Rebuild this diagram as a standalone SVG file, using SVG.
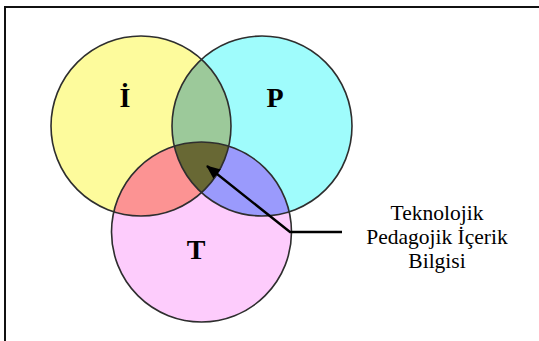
<svg xmlns="http://www.w3.org/2000/svg" width="539" height="341" viewBox="0 0 539 341">
  <style>
    .ring { fill: none; stroke: #2e2e2e; stroke-width: 1.6; }
    .big { font-weight: bold; font-size: 28px; fill: #000; text-anchor: middle; }
    .note { font-size: 21.5px; fill: #000; text-anchor: middle; }
    .conn { stroke: #000; stroke-width: 2.4; fill: none; }
  </style>
  <defs>
    <clipPath id="clipI"><circle cx="141" cy="126" r="90"/></clipPath>
    <clipPath id="clipP"><circle cx="262" cy="126" r="90"/></clipPath>
    <clipPath id="clipT"><circle cx="201.5" cy="232" r="90"/></clipPath>
    <marker id="head" viewBox="0 0 14 12" refX="13" refY="6" markerWidth="14" markerHeight="12" markerUnits="userSpaceOnUse" orient="auto">
      <path d="M0,0 L14,6 L0,12 Z" fill="#000"/>
    </marker>
  </defs>

  <rect width="539" height="341" fill="#fff"/>
  <!-- outer frame, continues past the right and bottom edges -->
  <rect x="5" y="7" width="600" height="400" fill="none" stroke="#111" stroke-width="2"/>

  <!-- base discs -->
  <g id="node-I">
    <circle cx="141" cy="126" r="90" fill="#fdfb9c"/>
  </g>
  <g id="node-P">
    <circle cx="262" cy="126" r="90" fill="#9ffcfc"/>
  </g>
  <g id="node-T">
    <circle cx="201.5" cy="232" r="90" fill="#fdccfc"/>
  </g>

  <!-- pairwise overlaps -->
  <g id="overlap-IP" clip-path="url(#clipI)">
    <circle cx="262" cy="126" r="90" fill="#9cc99a"/>
  </g>
  <g id="overlap-IT" clip-path="url(#clipI)">
    <circle cx="201.5" cy="232" r="90" fill="#fc9393"/>
  </g>
  <g id="overlap-PT" clip-path="url(#clipP)">
    <circle cx="201.5" cy="232" r="90" fill="#9a9afc"/>
  </g>
  <!-- centre: all three -->
  <g id="overlap-IPT" clip-path="url(#clipI)">
    <g clip-path="url(#clipP)">
      <circle cx="201.5" cy="232" r="90" fill="#686834"/>
    </g>
  </g>

  <!-- outlines -->
  <g id="outlines">
    <circle class="ring" cx="141" cy="126" r="90"/>
    <circle class="ring" cx="262" cy="126" r="90"/>
    <circle class="ring" cx="201.5" cy="232" r="90"/>
  </g>

  <!-- circle letters -->
  <g id="labels" font-family="'Liberation Serif', 'DejaVu Serif', 'Times New Roman', serif">
    <text class="big" x="125" y="107">İ</text>
    <text class="big" x="275" y="107">P</text>
    <text class="big" x="196" y="259">T</text>
  </g>

  <!-- pointer to the centre region -->
  <g id="connectors">
    <polyline class="conn" points="342,232 290,232 207,166" marker-end="url(#head)"/>
  </g>

  <g id="node-TPACK" font-family="'Liberation Serif', 'DejaVu Serif', 'Times New Roman', serif">
    <text class="note" x="437" y="220">Teknolojik</text>
    <text class="note" x="437" y="244">Pedagojik İçerik</text>
    <text class="note" x="437" y="268">Bilgisi</text>
  </g>
</svg>
